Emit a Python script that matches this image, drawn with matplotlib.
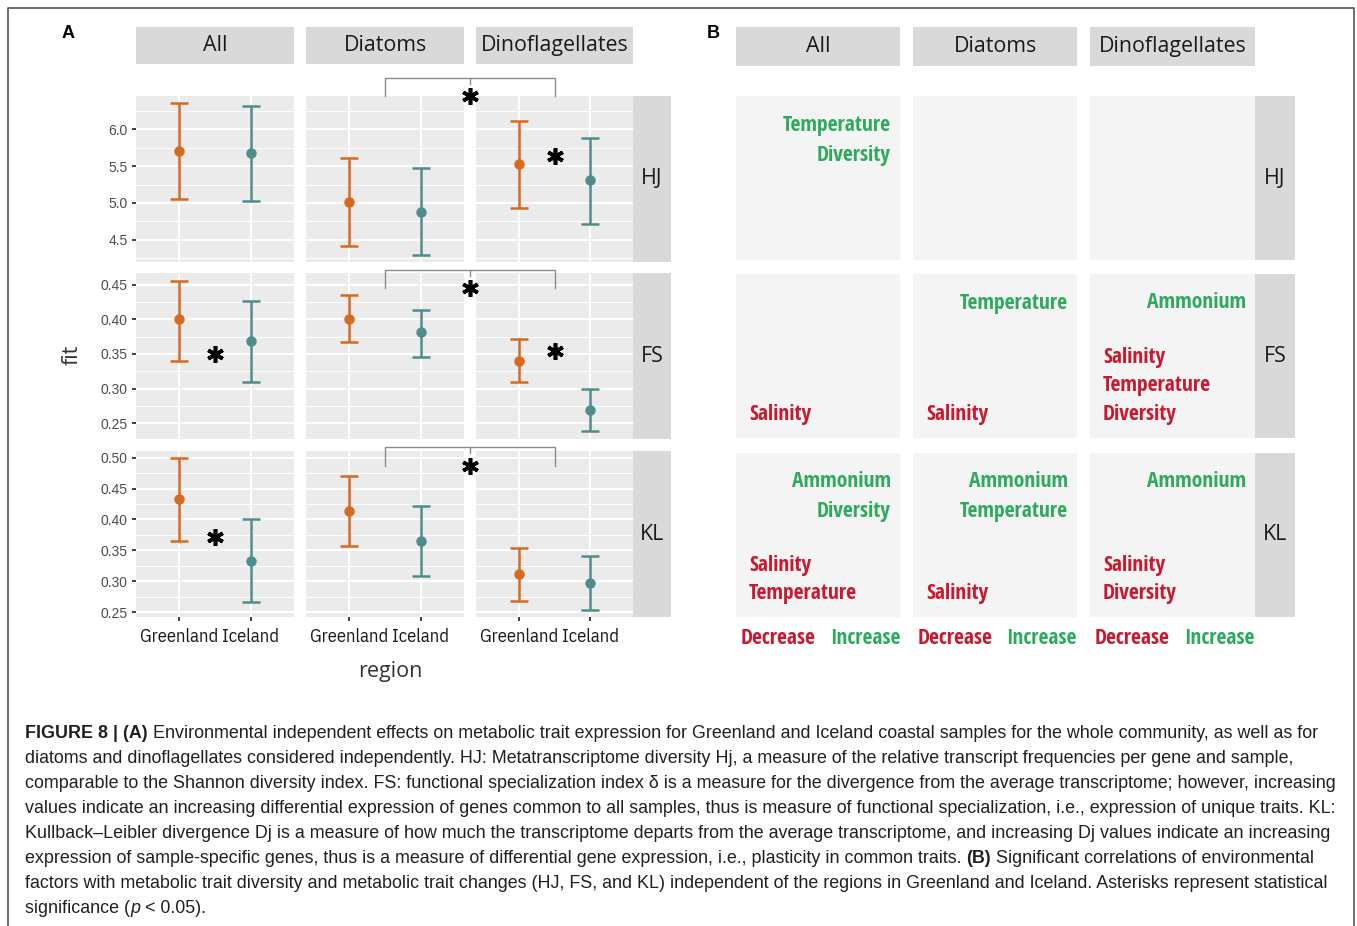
import matplotlib
matplotlib.use('Agg')
import matplotlib.pyplot as plt
from matplotlib.lines import Line2D
from matplotlib.ticker import MultipleLocator

# ---- data (panel A) ----
groups = ['All', 'Diatoms', 'Dinoflagellates']
metrics = ['HJ', 'FS', 'KL']
regions = ['Greenland', 'Iceland']

# order: All G, All I, Diatoms G, Diatoms I, Dino G, Dino I
hj_fit = [5.70, 5.68, 5.01, 4.88, 5.53, 5.31]
hj_lo = [5.05, 5.03, 4.42, 4.30, 4.93, 4.72]
hj_hi = [6.35, 6.32, 5.61, 5.47, 6.11, 5.88]

fs_fit = [0.400, 0.368, 0.401, 0.381, 0.340, 0.269]
fs_lo = [0.340, 0.310, 0.367, 0.346, 0.310, 0.238]
fs_hi = [0.456, 0.426, 0.435, 0.414, 0.371, 0.300]

kl_fit = [0.433, 0.333, 0.414, 0.365, 0.311, 0.297]
kl_lo = [0.365, 0.266, 0.357, 0.308, 0.268, 0.253]
kl_hi = [0.500, 0.400, 0.471, 0.422, 0.354, 0.341]

hj_ticks = [4.5, 5.0, 5.5, 6.0]
fs_ticks = [0.25, 0.30, 0.35, 0.40, 0.45]
kl_ticks = [0.25, 0.30, 0.35, 0.40, 0.45, 0.50]
ylims = [(4.20, 6.45), (0.227, 0.467), (0.242, 0.511)]

# asterisks between regions inside a group: (metric, group, y)
star_within = [('HJ', 'Dinoflagellates', 5.63), ('FS', 'All', 0.350),
               ('FS', 'Dinoflagellates', 0.354), ('KL', 'All', 0.372)]
# bracket Diatoms vs Dinoflagellates per metric (top, leg end)
bracket_top = [6.70, 0.4717, 0.518]
bracket_end = [6.446, 0.4457, 0.487]

# ---- data (panel B) ----
increase = {('HJ', 'All'): ['Temperature', 'Diversity'],
            ('FS', 'Diatoms'): ['Temperature'],
            ('FS', 'Dinoflagellates'): ['Ammonium'],
            ('KL', 'All'): ['Ammonium', 'Diversity'],
            ('KL', 'Diatoms'): ['Ammonium', 'Temperature'],
            ('KL', 'Dinoflagellates'): ['Ammonium']}
decrease = {('FS', 'All'): ['Salinity'],
            ('FS', 'Diatoms'): ['Salinity'],
            ('FS', 'Dinoflagellates'): ['Salinity', 'Temperature', 'Diversity'],
            ('KL', 'All'): ['Salinity', 'Temperature'],
            ('KL', 'Diatoms'): ['Salinity'],
            ('KL', 'Dinoflagellates'): ['Salinity', 'Diversity']}

caption = [
    [("FIGURE 8 | (A)", 'bold', 'normal'), (" ", None, None),
     ("Environmental independent effects on metabolic trait expression for Greenland and Iceland coastal samples for the whole community, as well as for", 'normal', 'normal')],
    [("diatoms and dinoflagellates considered independently. HJ: Metatranscriptome diversity Hj, a measure of the relative transcript frequencies per gene and sample,", 'normal', 'normal')],
    [("comparable to the Shannon diversity index. FS: functional specialization index \u03b4 is a measure for the divergence from the average transcriptome; however, increasing", 'normal', 'normal')],
    [("values indicate an increasing differential expression of genes common to all samples, thus is measure of functional specialization, i.e., expression of unique traits. KL:", 'normal', 'normal')],
    [("Kullback\u2013Leibler divergence Dj is a measure of how much the transcriptome departs from the average transcriptome, and increasing Dj values indicate an increasing", 'normal', 'normal')],
    [("expression of sample-specific genes, thus is a measure of differential gene expression, i.e., plasticity in common traits.", 'normal', 'normal'), (" ", None, None),
     ("(B)", 'bold', 'normal'), (" ", None, None), ("Significant correlations of environmental", 'normal', 'normal')],
    [("factors with metabolic trait diversity and metabolic trait changes (HJ, FS, and KL) independent of the regions in Greenland and Iceland. Asterisks represent statistical", 'normal', 'normal')],
    [("significance (", 'normal', 'normal'), ("p", 'normal', 'italic'), (" ", None, None), ("< 0.05).", 'normal', 'normal')],
]

W, H = 1357, 926
fig = plt.figure(figsize=(W / 100, H / 100), dpi=100)
fig.patch.set_facecolor('white')
renderer = fig.canvas.get_renderer()

ORANGE = '#D8691F'
TEAL = '#4F8D8C'
GREEN = '#2EAA5C'
RED = '#C8192E'
STRIP = '#D9D9D9'
SANS = ['Open Sans', 'DejaVu Sans']
NARROW = ['IBM Plex Sans Condensed', 'DejaVu Sans']
BOLDNARROW = ['Open Sans Condensed', 'IBM Plex Sans Condensed', 'DejaVu Sans']
ARIAL = ['Liberation Sans', 'DejaVu Sans']


def text_width(s, size=10, **kw):
    t = fig.text(0, 0, s, fontsize=size, **kw)
    w = t.get_window_extent(renderer).width
    t.remove()
    return w


def fit_size(s, target, **kw):
    return 10 * target / text_width(s, 10, **kw)


def box(x0, y0, x1, y1):
    return [x0 / W, 1 - y1 / H, (x1 - x0) / W, (y1 - y0) / H]


strip_size = fit_size('Dinoflagellates', 148, family=SANS)
tick_size = fit_size('Greenland', 78, family=NARROW)
ytick_size = fit_size('0.45', 27, family=ARIAL)
b_size = fit_size('Temperature', 108, family=BOLDNARROW, fontweight='bold')
title_size = fit_size('region', 64, family=SANS)


def strip(x0, y0, x1, y1, label):
    s = fig.add_axes(box(x0, y0, x1, y1))
    s.set_facecolor(STRIP)
    s.set_xticks([])
    s.set_yticks([])
    for sp in s.spines.values():
        sp.set_visible(False)
    s.text(0.5, 0.5, label, ha='center', va='center', fontsize=strip_size,
           color='#1A1A1A', family=SANS, transform=s.transAxes)
    return s


def star(host, x, y, transform):
    host.add_artist(Line2D([x], [y], marker=(6, 2, 0), markersize=12,
                           markeredgewidth=2.6, color='black',
                           transform=transform, clip_on=False))


# ================= panel A =================
colsA = [(136, 294), (306, 464), (476, 633)]
rowsA = [(96, 262), (273, 439), (451, 617)]
fits = [hj_fit, fs_fit, kl_fit]
los = [hj_lo, fs_lo, kl_lo]
his = [hj_hi, fs_hi, kl_hi]
ticks = [hj_ticks, fs_ticks, kl_ticks]
fmts = ['%.1f', '%.2f', '%.2f']

axes = []
for r, m in enumerate(metrics):
    row = []
    for c, g in enumerate(groups):
        ax = fig.add_axes(box(colsA[c][0], rowsA[r][0], colsA[c][1], rowsA[r][1]))
        ax.set_facecolor('#EBEBEB')
        for sp in ax.spines.values():
            sp.set_visible(False)
        ax.set_xlim(0.4, 2.6)
        ax.set_ylim(*ylims[r])
        ax.set_yticks(ticks[r])
        step = ticks[r][1] - ticks[r][0]
        ax.yaxis.set_minor_locator(MultipleLocator(step / 2))
        ax.set_xticks([1, 2])
        ax.grid(True, which='major', color='white', lw=1.4)
        ax.grid(True, which='minor', axis='y', color='white', lw=0.7)
        ax.set_axisbelow(True)
        ax.tick_params(which='minor', length=0)
        for i, col in enumerate([ORANGE, TEAL]):
            k = 2 * c + i
            f = fits[r][k]
            ax.errorbar([i + 1], [f], yerr=[[f - los[r][k]], [his[r][k] - f]],
                        fmt='o', color=col, ms=6.5, elinewidth=1.8, capsize=6.5,
                        capthick=1.8)
        if c == 0:
            ax.tick_params(axis='y', length=3, width=1.3, color='#333333',
                           labelsize=ytick_size, labelcolor='#4D4D4D', pad=3)
            ax.set_yticklabels([fmts[r] % t for t in ticks[r]], family=ARIAL)
        else:
            ax.tick_params(axis='y', left=False, labelleft=False)
        if r == 2:
            ax.set_xticklabels(regions, family=NARROW, fontsize=tick_size, color='#1A1A1A')
            ax.tick_params(axis='x', length=3, width=1.3, color='#333333', pad=5)
        else:
            ax.tick_params(axis='x', bottom=False, labelbottom=False)
        row.append(ax)
    axes.append(row)

for c, g in enumerate(groups):
    strip(colsA[c][0], 27, colsA[c][1], 64, g)
for r, m in enumerate(metrics):
    strip(633, rowsA[r][0], 671, rowsA[r][1], m)

for m, g, y in star_within:
    ax = axes[metrics.index(m)][groups.index(g)]
    star(ax, 1.5, y, ax.transData)

# brackets between Diatoms and Dinoflagellates
inv = fig.transFigure.inverted()
for r in range(3):
    a1, a2 = axes[r][1], axes[r][2]
    x1, yt = a1.transData.transform((1.5, bracket_top[r]))
    _, yb = a1.transData.transform((1.5, bracket_end[r]))
    x2, _ = a2.transData.transform((1.5, bracket_top[r]))
    xm = (a1.get_window_extent().x1 + a2.get_window_extent().x0) / 2
    pts = [inv.transform(p) for p in [(x1, yb), (x1, yt), (x2, yt), (x2, yb)]]
    fig.add_artist(Line2D([p[0] for p in pts], [p[1] for p in pts], color='#8C8C8C', lw=1.0))
    m0 = inv.transform((xm, yt))
    m1 = inv.transform((xm, yt - 6))
    fig.add_artist(Line2D([m0[0], m1[0]], [m0[1], m1[1]], color='#8C8C8C', lw=1.0))
    s = inv.transform((xm, yb))
    star(fig, s[0], s[1], fig.transFigure)

fig.text(72 / W, 1 - 355 / H, 'fit', rotation=90, ha='center', va='center',
         fontsize=title_size, color='#333333', family=SANS)
fig.text(390 / W, 1 - 672 / H, 'region', ha='center', va='center',
         fontsize=title_size, color='#333333', family=SANS)
fig.text(68 / W, 1 - 33 / H, 'A', ha='center', va='center', fontsize=13,
         fontweight='bold', family=ARIAL)

# ================= panel B =================
colsB = [(736, 900), (913, 1077), (1090, 1255)]
rowsB = [(96, 260), (274, 438), (453, 617)]
for r, m in enumerate(metrics):
    for c, g in enumerate(groups):
        x0, x1 = colsB[c]
        y0, y1 = rowsB[r]
        ax = fig.add_axes(box(x0, y0, x1, y1))
        ax.set_facecolor('#F4F4F4')
        ax.set_xticks([])
        ax.set_yticks([])
        for sp in ax.spines.values():
            sp.set_visible(False)
        for i, name in enumerate(increase.get((m, g), [])):
            fig.text((x1 - 9) / W, 1 - (y0 + 29 + 30 * i) / H, name, ha='right',
                     va='center', fontsize=b_size, fontweight='bold', color=GREEN,
                     family=BOLDNARROW)
        dec = decrease.get((m, g), [])
        for i, name in enumerate(dec):
            fig.text((x0 + 13) / W, 1 - (y1 - 24 - 28 * (len(dec) - 1 - i)) / H, name,
                     ha='left', va='center', fontsize=b_size, fontweight='bold',
                     color=RED, family=BOLDNARROW)
        if r == 2:
            fig.text((x0 + 5) / W, 1 - 638 / H, 'Decrease', ha='left', va='center',
                     fontsize=b_size, fontweight='bold', color=RED, family=BOLDNARROW)
            fig.text(x1 / W, 1 - 638 / H, 'Increase', ha='right', va='center',
                     fontsize=b_size, fontweight='bold', color=GREEN, family=BOLDNARROW)

for c, g in enumerate(groups):
    strip(colsB[c][0], 27, colsB[c][1], 66, g)
for r, m in enumerate(metrics):
    strip(1255, rowsB[r][0], 1295, rowsB[r][1], m)

fig.text(713 / W, 1 - 33 / H, 'B', ha='center', va='center', fontsize=13,
         fontweight='bold', family=ARIAL)

# ================= frame =================
fig.add_artist(Line2D([8 / W, 8 / W, 1354 / W, 1354 / W],
                      [0, 1 - 8 / H, 1 - 8 / H, 0], color='#555555', lw=1.2))

# ================= caption =================
cap_size = fit_size(caption[2][0][0], 1315, family=ARIAL)
space = text_width('a a', cap_size, family=ARIAL) - text_width('aa', cap_size, family=ARIAL)

for li, runs in enumerate(caption):
    x = 25
    y = 733 + 25.1 * li
    for s, weight, style in runs:
        if weight is None:
            x += space
            continue
        t = fig.text(x / W, 1 - y / H, s, ha='left', va='center', fontsize=cap_size,
                     fontweight=weight, fontstyle=style, family=ARIAL, color='#231F20')
        x += t.get_window_extent(renderer).width

fig.savefig('out.png', dpi=100)
